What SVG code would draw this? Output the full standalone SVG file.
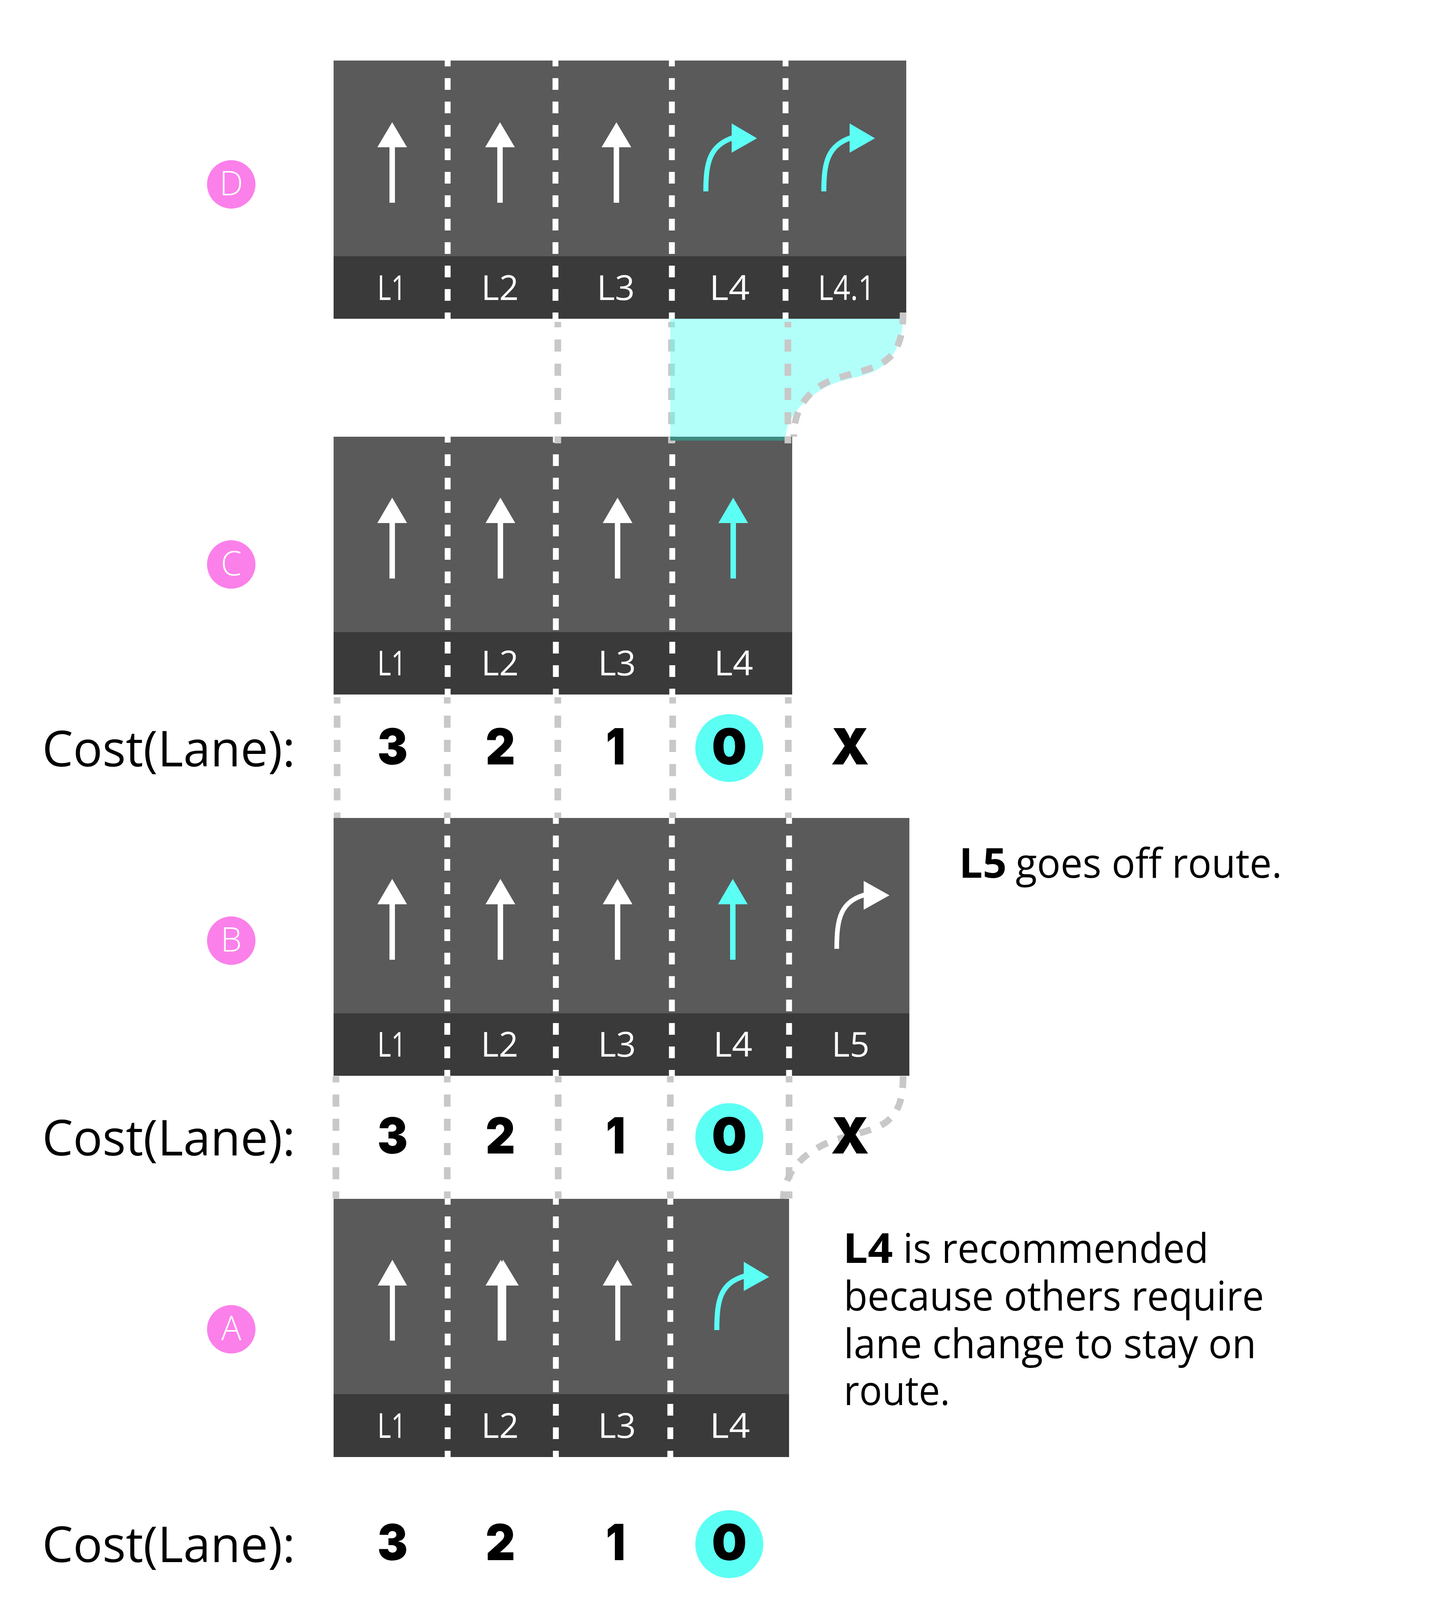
<svg xmlns="http://www.w3.org/2000/svg" width="3712" height="4176" viewBox="0 0 3712 4176">
<defs>
<style>
text{font-family:"Open Sans","Liberation Sans",sans-serif}
.lane{fill:#5a5a5a}.band{fill:#3a3a3a}
.wd{stroke:#fff;stroke-width:15;stroke-dasharray:30 30;stroke-dashoffset:15;fill:none}
.gd{stroke:#c8c8c8;stroke-width:17;stroke-dasharray:31 31;fill:none}
.gc{stroke:#c8c8c8;stroke-width:17;stroke-dasharray:30 28;fill:none}
.lbl{fill:#fff;font-size:88px;font-weight:400}
.cost{fill:#000;font-size:127px;font-weight:400}
.num{fill:#000;font-family:"Inter","Open Sans",sans-serif;font-size:128px;font-weight:900}
.note{fill:#000;font-size:105px;font-weight:400}
.b{font-weight:700}
.badge{fill:#fb80ea}
.bl{fill:#fff;font-size:86px;font-weight:300;text-anchor:middle}
.ring{fill:#5cfff4}
.w{fill:#fff}.c{fill:#5cfff4}
.sw{stroke:#fff;fill:none}.sc{stroke:#5cfff4;fill:none}
</style>
</defs>
<rect width="3712" height="4176" fill="#fff"/>

<g id="road-D">
<rect class="lane" x="854" y="155" width="1466" height="501"/>
<rect class="band" x="854" y="656" width="1466" height="160"/>
<line class="wd" x1="1146" y1="155" x2="1146" y2="816"/>
<line class="wd" x1="1422" y1="155" x2="1422" y2="816"/>
<line class="wd" x1="1720" y1="155" x2="1720" y2="816"/>
<line class="wd" x1="2011" y1="155" x2="2011" y2="816"/>
<g id="D-arrows">
<path class="w" d="M1004 313L1042 377H1011V519H997V377H966Z"/>
<path class="w" d="M1280 313L1318 377H1287V519H1273V377H1242Z"/>
<path class="w" d="M1578 313L1616 377H1585V519H1571V377H1540Z"/>
<path class="sc" stroke-width="13" d="M1807 490C1807 415 1817 372 1878 352"/>
<path class="c" d="M1873 316L1938 354L1873 391Z"/>
<path class="sc" stroke-width="13" d="M2109 490C2109 415 2119 372 2180 352"/>
<path class="c" d="M2175 316L2240 354L2175 391Z"/>
</g>
<text class="lbl" x="966" y="768" textLength="74" lengthAdjust="spacingAndGlyphs">L1</text>
<text class="lbl" x="1232" y="768" textLength="96" lengthAdjust="spacingAndGlyphs">L2</text>
<text class="lbl" x="1528" y="768" textLength="97" lengthAdjust="spacingAndGlyphs">L3</text>
<text class="lbl" x="1816" y="768" textLength="103" lengthAdjust="spacingAndGlyphs">L4</text>
<text class="lbl" x="2094" y="768" textLength="146" lengthAdjust="spacingAndGlyphs">L4.1</text>
</g>

<g id="road-C">
<rect class="lane" x="854" y="1118" width="1174" height="500"/>
<rect class="band" x="854" y="1618" width="1174" height="160"/>
<line class="wd" x1="1146" y1="1118" x2="1146" y2="1778"/>
<line class="wd" x1="1423" y1="1118" x2="1423" y2="1778"/>
<line class="wd" x1="1721" y1="1118" x2="1721" y2="1778"/>
<g id="C-arrows">
<path class="w" d="M1004 1274L1042 1339H1011V1481H997V1339H966Z"/>
<path class="w" d="M1281 1274L1319 1339H1288V1481H1274V1339H1243Z"/>
<path class="w" d="M1581 1274L1619 1339H1588V1481H1574V1339H1543Z"/>
<path class="c" d="M1877 1274L1915 1339H1884V1481H1870V1339H1839Z"/>
</g>
<text class="lbl" x="966" y="1729" textLength="74" lengthAdjust="spacingAndGlyphs">L1</text>
<text class="lbl" x="1232" y="1729" textLength="96" lengthAdjust="spacingAndGlyphs">L2</text>
<text class="lbl" x="1531" y="1729" textLength="97" lengthAdjust="spacingAndGlyphs">L3</text>
<text class="lbl" x="1828" y="1729" textLength="100" lengthAdjust="spacingAndGlyphs">L4</text>
</g>

<g id="road-B">
<rect class="lane" x="854" y="2094" width="1474" height="500"/>
<rect class="band" x="854" y="2594" width="1474" height="160"/>
<line class="wd" x1="1145" y1="2094" x2="1145" y2="2754"/>
<line class="wd" x1="1423" y1="2094" x2="1423" y2="2754"/>
<line class="wd" x1="1720" y1="2094" x2="1720" y2="2754"/>
<line class="wd" x1="2020" y1="2094" x2="2020" y2="2754"/>
<g id="B-arrows">
<path class="w" d="M1004 2250L1042 2315H1011V2457H997V2315H966Z"/>
<path class="w" d="M1281 2250L1319 2315H1288V2457H1274V2315H1243Z"/>
<path class="w" d="M1581 2250L1619 2315H1588V2457H1574V2315H1543Z"/>
<path class="c" d="M1876 2250L1914 2315H1883V2457H1869V2315H1838Z"/>
<path class="sw" stroke-width="12" d="M2142 2429C2142 2350 2152 2308 2216 2290"/>
<path class="w" d="M2211 2255L2277 2292L2211 2329Z"/>
</g>
<text class="lbl" x="966" y="2705" textLength="74" lengthAdjust="spacingAndGlyphs">L1</text>
<text class="lbl" x="1231" y="2705" textLength="96" lengthAdjust="spacingAndGlyphs">L2</text>
<text class="lbl" x="1531" y="2705" textLength="97" lengthAdjust="spacingAndGlyphs">L3</text>
<text class="lbl" x="1826" y="2705" textLength="100" lengthAdjust="spacingAndGlyphs">L4</text>
<text class="lbl" x="2129" y="2705" textLength="97" lengthAdjust="spacingAndGlyphs">L5</text>
</g>

<g id="road-A">
<rect class="lane" x="854" y="3069" width="1166" height="500"/>
<rect class="band" x="854" y="3569" width="1166" height="161"/>
<line class="wd" x1="1146" y1="3069" x2="1146" y2="3730"/>
<line class="wd" x1="1423" y1="3069" x2="1423" y2="3730"/>
<line class="wd" x1="1716" y1="3069" x2="1716" y2="3730"/>
<g id="A-arrows">
<path class="w" d="M1004.500 3225L1042 3291H1011V3432H998V3291H967Z"/>
<path class="w" d="M1282 3225L1285 3231L1288 3225L1328 3291H1296V3432H1274V3291H1243Z"/>
<path class="w" d="M1581 3225L1619 3291H1588V3432H1575V3291H1543Z"/>
<path class="sc" stroke-width="13" d="M1835 3405C1835 3325 1845 3285 1908 3266"/>
<path class="c" d="M1904 3230L1969 3269L1904 3305Z"/>
</g>
<text class="lbl" x="966" y="3681" textLength="74" lengthAdjust="spacingAndGlyphs">L1</text>
<text class="lbl" x="1232" y="3681" textLength="96" lengthAdjust="spacingAndGlyphs">L2</text>
<text class="lbl" x="1531" y="3681" textLength="97" lengthAdjust="spacingAndGlyphs">L3</text>
<text class="lbl" x="1817" y="3681" textLength="103" lengthAdjust="spacingAndGlyphs">L4</text>
</g>

<g id="connectors">
<line class="gd" x1="1719" y1="824" x2="1719" y2="1135" stroke-dashoffset="17"/>
<path id="route-fill" d="M1716 816H2311C2311 880 2285 915 2259 937C2220 968 2165 965 2116 990C2050 1025 2013 1075 2011 1118H1716Z" fill="#5cfff4" fill-opacity=".47"/>
<rect x="1716" y="1118" width="295" height="10" fill="#3f8a80"/>
<line class="gd" x1="1428" y1="824" x2="1428" y2="1135" stroke-dashoffset="17"/>
<line class="gd" x1="2017" y1="824" x2="2017" y2="1135" stroke-dashoffset="17"/>
<path class="gc" d="M2312 800C2312 860 2300 900 2265 925C2225 952 2170 955 2120 977C2070 1000 2032 1045 2032 1118"/>
<line class="gd" x1="863" y1="1785" x2="863" y2="2094" stroke-dashoffset="15"/>
<line class="gd" x1="1145" y1="1785" x2="1145" y2="2094" stroke-dashoffset="15"/>
<line class="gd" x1="1428" y1="1785" x2="1428" y2="2094" stroke-dashoffset="15"/>
<line class="gd" x1="1722" y1="1785" x2="1722" y2="2094" stroke-dashoffset="15"/>
<line class="gd" x1="2018" y1="1785" x2="2018" y2="2094" stroke-dashoffset="15"/>
<line class="gd" x1="860" y1="2755" x2="860" y2="3068" stroke-dashoffset="15"/>
<line class="gd" x1="1145" y1="2755" x2="1145" y2="3068" stroke-dashoffset="15"/>
<line class="gd" x1="1429" y1="2755" x2="1429" y2="3068" stroke-dashoffset="15"/>
<line class="gd" x1="1716" y1="2755" x2="1716" y2="3068" stroke-dashoffset="15"/>
<line class="gd" x1="2020" y1="2755" x2="2020" y2="3068" stroke-dashoffset="15"/>
<path class="gc" d="M2312 2755C2312 2815 2300 2850 2265 2875C2225 2900 2170 2905 2120 2925C2050 2955 2008 3005 2005 3069"/>
</g>

<g id="badge-D"><circle class="badge" cx="592" cy="472" r="62"/><text class="bl" x="592" y="500">D</text></g>
<g id="badge-C"><circle class="badge" cx="592" cy="1445" r="62"/><text class="bl" x="592" y="1473">C</text></g>
<g id="badge-B"><circle class="badge" cx="592" cy="2408" r="62"/><text class="bl" x="592" y="2436">B</text></g>
<g id="badge-A"><circle class="badge" cx="592" cy="3403" r="62"/><text class="bl" x="592" y="3431">A</text></g>

<g id="cost-row-1">
<text class="cost" x="108" y="1962" textLength="648" lengthAdjust="spacingAndGlyphs">Cost(Lane):</text>
<text class="num" x="966" y="1957" textLength="78" lengthAdjust="spacingAndGlyphs">3</text><text class="num" x="1243" y="1957" textLength="76" lengthAdjust="spacingAndGlyphs">2</text><text class="num" x="1551" y="1957" textLength="50" lengthAdjust="spacingAndGlyphs">1</text>
<circle class="ring" cx="1867" cy="1915" r="87"/><text class="num" x="1822" y="1957" textLength="90" lengthAdjust="spacingAndGlyphs">0</text>
<text class="num" x="2127" y="1957" textLength="98" lengthAdjust="spacingAndGlyphs">X</text>
</g>
<g id="cost-row-2">
<text class="cost" x="108" y="2958" textLength="648" lengthAdjust="spacingAndGlyphs">Cost(Lane):</text>
<text class="num" x="966" y="2953" textLength="78" lengthAdjust="spacingAndGlyphs">3</text><text class="num" x="1243" y="2953" textLength="76" lengthAdjust="spacingAndGlyphs">2</text><text class="num" x="1551" y="2953" textLength="50" lengthAdjust="spacingAndGlyphs">1</text>
<circle class="ring" cx="1867" cy="2911" r="87"/><text class="num" x="1822" y="2953" textLength="90" lengthAdjust="spacingAndGlyphs">0</text>
<text class="num" x="2127" y="2953" textLength="98" lengthAdjust="spacingAndGlyphs">X</text>
</g>
<g id="cost-row-3">
<text class="cost" x="108" y="3999" textLength="648" lengthAdjust="spacingAndGlyphs">Cost(Lane):</text>
<text class="num" x="966" y="3994" textLength="78" lengthAdjust="spacingAndGlyphs">3</text><text class="num" x="1243" y="3994" textLength="76" lengthAdjust="spacingAndGlyphs">2</text><text class="num" x="1551" y="3994" textLength="50" lengthAdjust="spacingAndGlyphs">1</text>
<circle class="ring" cx="1867" cy="3953" r="87"/><text class="num" x="1822" y="3994" textLength="90" lengthAdjust="spacingAndGlyphs">0</text>
</g>

<g id="note-L5">
<text class="note" y="2247"><tspan class="b" x="2455" textLength="122" lengthAdjust="spacingAndGlyphs">L5</tspan><tspan x="2600" textLength="682" lengthAdjust="spacingAndGlyphs">goes off route.</tspan></text>
</g>
<g id="note-L4">
<text class="note" y="3233"><tspan class="b" x="2158" textLength="128" lengthAdjust="spacingAndGlyphs">L4</tspan><tspan x="2312" textLength="782" lengthAdjust="spacingAndGlyphs">is recommended</tspan></text>
<text class="note" x="2160" y="3355" textLength="1076" lengthAdjust="spacingAndGlyphs">because others require</text>
<text class="note" x="2160" y="3477" textLength="1056" lengthAdjust="spacingAndGlyphs">lane change to stay on</text>
<text class="note" x="2160" y="3597" textLength="272" lengthAdjust="spacingAndGlyphs">route.</text>
</g>
</svg>
